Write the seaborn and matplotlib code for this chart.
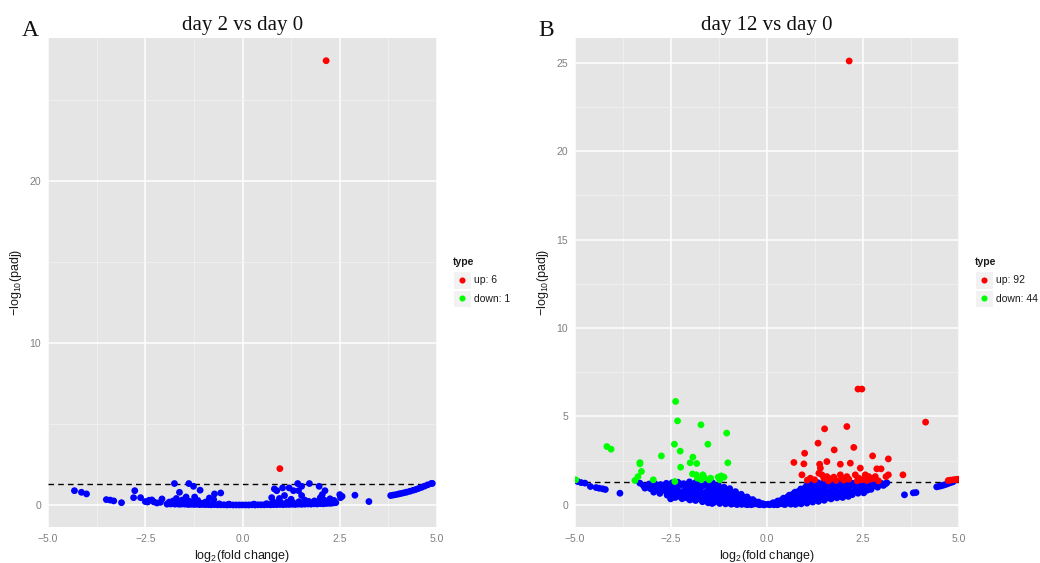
import numpy as np
import pandas as pd
import matplotlib
matplotlib.use("Agg")
import matplotlib.pyplot as plt
from matplotlib.patches import Rectangle
from matplotlib.lines import Line2D
import seaborn as sns

sns.set_style("white")
plt.rcParams["font.family"] = ["Liberation Sans", "DejaVu Sans"]
plt.rcParams["mathtext.fontset"] = "custom"
plt.rcParams["mathtext.rm"] = "Liberation Sans"
plt.rcParams["mathtext.it"] = "Liberation Sans:italic"
plt.rcParams["axes.unicode_minus"] = True

# ---------------- data: day 2 vs day 0 ----------------
a_normal = [
    (-4.32, 0.88), (-4.14, 0.78), (-4.01, 0.68), (-3.50, 0.33), (-3.40, 0.30), (-3.31, 0.25),
    (-3.11, 0.14), (-2.77, 0.88), (-2.80, 0.45), (-2.62, 0.45), (-2.50, 0.21), (-2.44, 0.18),
    (-2.40, 0.29), (-2.33, 0.31), (-2.28, 0.19), (-2.20, 0.12), (-2.11, 0.16), (-2.07, 0.37),
    (-1.94, 0.05), (-1.75, 1.32), (-1.62, 0.78), (-1.70, 0.40), (-1.78, 0.25), (-1.38, 1.32),
    (-1.26, 1.15), (-1.23, 0.49), (-1.09, 0.91), (-1.45, 0.49), (-0.72, 0.68), (-0.56, 0.74),
    (-0.85, 0.43), (-0.74, 0.33), (-1.55, 0.30), (-1.35, 0.22), (-1.15, 0.28), (-0.95, 0.18),
    (0.82, 0.99), (0.88, 0.88), (1.03, 1.05), (1.20, 1.05), (1.31, 0.88), (1.42, 1.32),
    (1.52, 1.15), (1.44, 0.88), (1.08, 0.58), (1.72, 1.32), (1.97, 1.15), (2.12, 0.88),
    (2.05, 0.64), (1.52, 0.58), (2.50, 0.64), (2.56, 0.53), (2.89, 0.60), (3.25, 0.21),
    (0.75, 0.45), (0.95, 0.40), (1.25, 0.35), (1.60, 0.30), (1.85, 0.25), (2.10, 0.30),
    (2.30, 0.25), (2.40, 0.15), (2.52, 0.45), (2.00, 0.45), (2.25, 0.38),
    (3.81, 0.58), (3.88, 0.61), (3.95, 0.64), (4.02, 0.68), (4.08, 0.71), (4.15, 0.75),
    (4.22, 0.79), (4.30, 0.84), (4.38, 0.90), (4.45, 0.95), (4.52, 1.01), (4.60, 1.08),
    (4.68, 1.16), (4.76, 1.24), (4.85, 1.32), (4.88, 1.33),
    (-1.92, 0.08), (-1.85, 0.06), (-1.80, 0.10), (-1.74, 0.05), (-1.68, 0.07), (-1.62, 0.04),
    (-1.55, 0.06), (-1.48, 0.05), (-1.40, 0.03), (-1.33, 0.04), (-1.25, 0.03), (-1.18, 0.04),
    (-1.10, 0.02), (-1.02, 0.03), (-0.95, 0.02), (-0.87, 0.02), (-0.80, 0.01), (-0.72, 0.02),
    (-0.64, 0.01), (-0.56, 0.01), (-0.48, 0.01), (-0.40, 0.00), (-0.32, 0.01), (-0.24, 0.00),
    (-0.16, 0.00), (-0.08, 0.00), (0.00, 0.00), (0.08, 0.00), (0.16, 0.00), (0.24, 0.01),
    (0.32, 0.00), (0.40, 0.01), (0.48, 0.01), (0.56, 0.01), (0.64, 0.02), (0.72, 0.01),
    (0.80, 0.02), (0.88, 0.02), (0.96, 0.03), (1.04, 0.02), (1.12, 0.03), (1.20, 0.03),
    (1.28, 0.04), (1.36, 0.03), (1.44, 0.05), (1.52, 0.04), (1.60, 0.05), (1.68, 0.06),
    (1.76, 0.05), (1.84, 0.07), (1.92, 0.06), (2.00, 0.08), (2.08, 0.07), (2.16, 0.09),
    (2.24, 0.10), (2.32, 0.12), (2.38, 0.14),
    (-1.88, 0.18), (-1.76, 0.22), (-1.70, 0.15), (-1.60, 0.20), (-1.50, 0.14), (-1.42, 0.17),
    (-1.30, 0.12), (-1.20, 0.15), (-1.05, 0.10), (-0.90, 0.12), (-0.60, 0.07), (-0.35, 0.05),
    (0.30, 0.05), (0.62, 0.08), (0.78, 0.22), (0.90, 0.15), (1.00, 0.12), (1.15, 0.18),
    (1.30, 0.14), (1.45, 0.20), (1.58, 0.16), (1.70, 0.22), (1.80, 0.15), (1.95, 0.20),
    (2.05, 0.18), (2.20, 0.22), (2.35, 0.28), (2.28, 0.12),
]
a_up = [(2.15, 27.4), (0.96, 2.24)]
a_down = []
a_counts = {"up": 6, "down": 1}

# ---------------- data: day 12 vs day 0 ----------------
b_normal = [
    (-4.93, 1.32), (-4.84, 1.26), (-4.74, 1.23), (-4.60, 1.04), (-4.45, 0.98), (-4.37, 0.94),
    (-4.28, 0.91), (-4.21, 0.87), (-3.83, 0.66), (-3.31, 1.23), (-3.13, 1.00), (-3.03, 0.91),
    (-2.94, 1.04), (-2.84, 0.85), (-2.51, 0.34),
    (3.58, 0.57), (3.81, 0.68), (3.88, 0.70), (4.42, 1.02), (4.48, 1.05), (4.54, 1.08),
    (4.60, 1.12), (4.66, 1.16), (4.72, 1.21), (4.78, 1.26), (4.84, 1.30),
    (-3.22, 1.10), (-3.18, 0.95), (-3.07, 1.18), (-3.03, 0.98),
    (-2.92, 1.20), (-2.88, 0.90), (-2.95, 0.72),
    (-2.77, 1.15), (-2.73, 0.95), (-2.79, 0.65),
    (-2.62, 1.22), (-2.58, 1.00), (-2.64, 0.78), (-2.60, 0.55),
    (-2.47, 1.25), (-2.42, 1.05), (-2.49, 0.82), (-2.44, 0.60), (-2.40, 0.42),
    (-2.32, 1.28), (-2.27, 1.10), (-2.34, 0.88), (-2.29, 0.66), (-2.36, 0.45),
    (-2.17, 1.20), (-2.12, 0.98), (-2.19, 0.75), (-2.14, 0.52), (-2.21, 0.35),
    (-2.02, 1.30), (-1.97, 1.12), (-2.04, 0.90), (-1.99, 0.68), (-2.06, 0.48), (-2.01, 0.28),
    (-1.87, 1.25), (-1.82, 1.02), (-1.89, 0.80), (-1.84, 0.60), (-1.91, 0.40), (-1.86, 0.25),
    (-1.72, 1.28), (-1.67, 1.08), (-1.74, 0.86), (-1.69, 0.65), (-1.76, 0.45), (-1.71, 0.30), (-1.68, 0.18),
    (-1.57, 1.20), (-1.52, 0.95), (-1.59, 0.72), (-1.54, 0.52), (-1.61, 0.35), (-1.56, 0.20), (-1.53, 0.12),
    (-1.42, 1.25), (-1.37, 1.00), (-1.44, 0.78), (-1.39, 0.58), (-1.46, 0.40), (-1.41, 0.26), (-1.38, 0.14), (-1.43, 0.08),
    (-1.27, 1.12), (-1.22, 0.88), (-1.29, 0.66), (-1.24, 0.48), (-1.31, 0.32), (-1.26, 0.18), (-1.23, 0.08),
    (-1.12, 1.00), (-1.07, 0.80), (-1.14, 0.60), (-1.09, 0.42), (-1.16, 0.28), (-1.11, 0.16), (-1.08, 0.06),
    (-0.97, 0.92), (-0.92, 0.70), (-0.99, 0.52), (-0.94, 0.36), (-1.01, 0.22), (-0.96, 0.10), (-0.93, 0.04),
    (-0.82, 0.75), (-0.77, 0.56), (-0.84, 0.40), (-0.79, 0.26), (-0.86, 0.14), (-0.81, 0.06), (-0.78, 0.02),
    (-0.67, 0.60), (-0.62, 0.44), (-0.69, 0.30), (-0.64, 0.18), (-0.71, 0.09), (-0.66, 0.03),
    (-0.52, 0.45), (-0.47, 0.32), (-0.54, 0.20), (-0.49, 0.11), (-0.56, 0.04), (-0.51, 0.01),
    (-0.37, 0.30), (-0.32, 0.20), (-0.39, 0.12), (-0.34, 0.05), (-0.41, 0.01),
    (-0.22, 0.16), (-0.17, 0.09), (-0.24, 0.04), (-0.19, 0.01),
    (-0.10, 0.06), (-0.05, 0.02), (-0.08, 0.00),
    (0.03, 0.04), (0.07, 0.01),
    (0.16, 0.12), (0.20, 0.05), (0.18, 0.01),
    (0.28, 0.22), (0.33, 0.12), (0.31, 0.05), (0.27, 0.01),
    (0.43, 0.38), (0.48, 0.24), (0.46, 0.13), (0.42, 0.05), (0.47, 0.02),
    (0.58, 0.55), (0.63, 0.38), (0.61, 0.24), (0.57, 0.12), (0.62, 0.04),
    (0.73, 0.72), (0.78, 0.52), (0.76, 0.34), (0.72, 0.20), (0.77, 0.08), (0.74, 0.03),
    (0.88, 0.90), (0.93, 0.66), (0.91, 0.46), (0.87, 0.30), (0.92, 0.16), (0.89, 0.06),
    (1.03, 1.08), (1.08, 0.82), (1.06, 0.60), (1.02, 0.40), (1.07, 0.24), (1.04, 0.10),
    (1.18, 1.20), (1.23, 0.95), (1.21, 0.72), (1.17, 0.50), (1.22, 0.32), (1.19, 0.16),
    (1.33, 1.25), (1.38, 1.02), (1.36, 0.80), (1.32, 0.58), (1.37, 0.38), (1.34, 0.20),
    (1.48, 1.28), (1.53, 1.08), (1.51, 0.86), (1.47, 0.64), (1.52, 0.44), (1.49, 0.26),
    (1.63, 1.22), (1.68, 1.00), (1.66, 0.78), (1.62, 0.56), (1.67, 0.34),
    (1.78, 1.28), (1.83, 1.06), (1.81, 0.84), (1.77, 0.62), (1.82, 0.40),
    (1.93, 1.25), (1.98, 1.02), (1.96, 0.80), (1.92, 0.58), (1.97, 0.42),
    (2.08, 1.28), (2.13, 1.08), (2.11, 0.88), (2.07, 0.66), (2.12, 0.48),
    (2.23, 1.22), (2.28, 1.00), (2.26, 0.78), (2.22, 0.58),
    (2.38, 1.26), (2.43, 1.06), (2.41, 0.86), (2.37, 0.66),
    (2.53, 1.20), (2.58, 1.00), (2.56, 0.80), (2.52, 0.68),
    (2.68, 1.25), (2.73, 1.05), (2.71, 0.88),
    (2.83, 1.18), (2.88, 1.00),
    (2.98, 1.22), (3.03, 1.10),
    (3.12, 1.25),
    (-2.55, 0.90), (-2.52, 0.68), (-2.38, 0.95), (-2.37, 0.72), (-2.25, 1.18), (-2.23, 0.62),
    (-2.08, 1.05), (-2.10, 0.60), (-2.09, 0.40), (-1.94, 0.92), (-1.93, 0.52), (-1.95, 0.34),
    (-1.79, 1.15), (-1.80, 0.72), (-1.78, 0.36), (-1.64, 1.12), (-1.63, 0.62), (-1.62, 0.27),
    (-1.49, 1.08), (-1.48, 0.66), (-1.50, 0.30), (-1.47, 0.16), (-1.34, 0.92), (-1.33, 0.52),
    (-1.35, 0.22), (-1.19, 0.94), (-1.18, 0.52), (-1.20, 0.22), (-1.04, 0.84), (-1.03, 0.46),
    (-1.05, 0.14), (-0.89, 0.62), (-0.88, 0.30), (-0.90, 0.08), (-0.74, 0.50), (-0.73, 0.22),
    (-0.59, 0.36), (-0.58, 0.13), (-0.44, 0.24), (-0.43, 0.07), (-0.29, 0.13), (-0.14, 0.05),
    (0.12, 0.06), (0.24, 0.14), (0.38, 0.28), (0.37, 0.08), (0.53, 0.44), (0.52, 0.16),
    (0.68, 0.62), (0.67, 0.26), (0.83, 0.78), (0.82, 0.40), (0.84, 0.12), (0.98, 0.95),
    (0.97, 0.52), (0.99, 0.20), (1.13, 1.10), (1.12, 0.66), (1.14, 0.26), (1.28, 1.12),
    (1.27, 0.68), (1.29, 0.30), (1.43, 1.15), (1.42, 0.72), (1.44, 0.32), (1.58, 1.18),
    (1.57, 0.74), (1.59, 0.40), (1.73, 1.12), (1.72, 0.70), (1.74, 0.46), (1.88, 1.15),
    (1.87, 0.72), (1.89, 0.50), (2.03, 1.18), (2.02, 0.76), (2.04, 0.55), (2.18, 1.12),
    (2.17, 0.70), (2.33, 1.15), (2.32, 0.76), (2.48, 1.12), (2.47, 0.76), (2.63, 1.10),
    (2.62, 0.84), (2.78, 1.08), (2.93, 1.12), (3.08, 1.18),
]
b_up = [
    (2.14, 25.1), (2.37, 6.55), (2.47, 6.55), (4.13, 4.68), (1.50, 4.30), (2.08, 4.43),
    (1.33, 3.49), (1.75, 3.11), (2.26, 3.25), (0.98, 2.92), (2.75, 2.77), (3.16, 2.60),
    (0.70, 2.40), (0.96, 2.32), (1.56, 2.45), (1.91, 2.30), (2.17, 2.36), (2.43, 2.08),
    (2.86, 2.04), (2.97, 2.04), (1.37, 2.30), (1.39, 2.08), (1.35, 1.79), (1.43, 1.70),
    (1.48, 1.51), (1.56, 1.60), (1.65, 1.47), (1.74, 1.57), (0.91, 1.70), (1.13, 1.51),
    (1.24, 1.42), (3.54, 1.70), (3.10, 1.60), (3.16, 1.70), (1.91, 1.70), (1.95, 1.51),
    (2.08, 1.60), (2.13, 1.45), (2.30, 1.70), (2.39, 1.51), (2.47, 1.42), (2.56, 1.70),
    (2.65, 1.60), (2.69, 1.45), (2.78, 1.51), (2.82, 1.60), (4.72, 1.38), (4.85, 1.42),
    (4.98, 1.45), (1.05, 1.40), (1.80, 1.38), (2.00, 1.40), (2.60, 1.38), (2.90, 1.36),
    (1.60, 1.36), (2.35, 1.36), (4.78, 1.40), (4.92, 1.44),
]
b_down = [
    (-2.38, 5.85), (-2.33, 4.75), (-1.72, 4.53), (-1.05, 4.06), (-4.17, 3.30), (-4.06, 3.15),
    (-2.41, 3.43), (-2.26, 3.04), (-1.54, 3.43), (-2.75, 2.77), (-3.31, 2.39), (-3.31, 2.32),
    (-1.93, 2.70), (-2.00, 2.38), (-1.83, 2.34), (-1.02, 2.38), (-2.25, 2.13), (-3.27, 1.89),
    (-3.36, 1.60), (-3.44, 1.38), (-2.96, 1.42), (-4.98, 1.42), (-1.94, 1.75), (-1.84, 1.70),
    (-1.81, 1.51), (-1.67, 1.70), (-1.64, 1.57), (-1.71, 1.42), (-1.51, 1.42), (-1.47, 1.51),
    (-1.27, 1.57), (-1.19, 1.64), (-1.12, 1.57), (-1.23, 1.42), (-2.40, 1.32),
]
b_counts = {"up": 92, "down": 44}

padj_cut = -np.log10(0.05)
palette = {"normal": "#0000FF", "up": "#FF0000", "down": "#00FF00"}


def frame(normal, up, down):
    rows = [(x, y, "normal") for x, y in normal]
    rows += [(x, y, "up") for x, y in up]
    rows += [(x, y, "down") for x, y in down]
    return pd.DataFrame(rows, columns=["log2fc", "nlogp", "type"])


W, H = 1040, 563
fig = plt.figure(figsize=(W / 100, H / 100), dpi=100)


def px_axes(x0, x1, y0, y1):
    return fig.add_axes([x0 / W, 1 - y1 / H, (x1 - x0) / W, (y1 - y0) / H])


TICK_GREY = "#7F7F7F"


def style(ax, ylim, ymaj, ymin):
    ax.set_facecolor("#E5E5E5")
    for s in ax.spines.values():
        s.set_visible(False)
    ax.set_xlim(-5, 5)
    ax.set_ylim(*ylim)
    ax.set_xticks([-5, -2.5, 0, 2.5, 5])
    ax.set_xticklabels(["\u22125.0", "\u22122.5", "0.0", "2.5", "5.0"])
    ax.set_xticks([-3.75, -1.25, 1.25, 3.75], minor=True)
    ax.set_yticks(ymaj)
    ax.set_yticks(ymin, minor=True)
    ax.grid(which="major", color="white", lw=1.1)
    ax.grid(which="minor", color="#F2F2F2", lw=0.5)
    ax.set_axisbelow(True)
    ax.tick_params(which="major", direction="out", length=3, width=0.8,
                   color=TICK_GREY, labelcolor=TICK_GREY, labelsize=7.5, pad=2)
    ax.tick_params(which="minor", length=0)
    ax.set_xlabel("log$_2$(fold change)", fontsize=9, color="#1A1A1A", labelpad=3)
    ax.set_ylabel("\u2212log$_{10}$(padj)", fontsize=9, color="#1A1A1A", labelpad=4)
    ax.axhline(padj_cut, color="black", lw=1.0, dashes=(4, 3), zorder=3)


def legend(x0, counts):
    fig.text(x0 / W, 1 - 262 / H, "type", fontsize=7.5, fontweight="bold",
             va="center", ha="left", color="#1A1A1A")
    for i, key in enumerate(["up", "down"]):
        top = 271 + i * 18.5
        fig.patches.append(Rectangle((x0 / W, 1 - (top + 17.5) / H), 17.5 / W, 17.5 / H,
                                     transform=fig.transFigure, facecolor="#F2F2F2",
                                     edgecolor="white", lw=0.8))
        fig.lines.append(Line2D([(x0 + 8.75) / W], [1 - (top + 8.75) / H],
                                transform=fig.transFigure, marker="o", ms=4.4,
                                mec="none", mfc=palette[key], ls="none"))
        fig.text((x0 + 20.5) / W, 1 - (top + 9) / H, f"{key}: {counts[key]}",
                 fontsize=7.5, va="center", ha="left", color="#1A1A1A")


panels = [
    dict(df=frame(a_normal, a_up, a_down), box=(48, 437, 38, 527), ylim=(-1.36, 28.8),
         ymaj=[0, 10, 20], ymin=[5, 15, 25], title="day 2 vs day 0", tag="A",
         tag_x=30, leg_x=453, counts=a_counts),
    dict(df=frame(b_normal, b_up, b_down), box=(575, 959, 38, 527), ylim=(-1.25, 26.4),
         ymaj=[0, 5, 10, 15, 20, 25], ymin=[2.5, 7.5, 12.5, 17.5, 22.5], title="day 12 vs day 0",
         tag="B", tag_x=546, leg_x=975, counts=b_counts),
]

for p in panels:
    ax = px_axes(*p["box"])
    sns.scatterplot(data=p["df"], x="log2fc", y="nlogp", hue="type", palette=palette,
                    s=24, linewidth=0, legend=False, ax=ax, zorder=4)
    style(ax, p["ylim"], p["ymaj"], p["ymin"])
    ax.set_title(p["title"], fontsize=15, family=["Liberation Serif"], pad=6, color="#111111")
    fig.text(p["tag_x"] / W, 1 - 30 / H, p["tag"], fontsize=17, family=["Liberation Serif"],
             ha="center", va="center", color="#111111")
    legend(p["leg_x"], p["counts"])

fig.savefig("out.png", dpi=100)
